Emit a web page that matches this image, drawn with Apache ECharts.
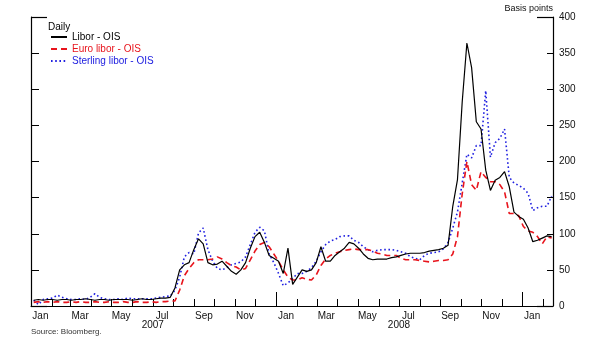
<!DOCTYPE html>
<html>
<head>
<meta charset="utf-8">
<script src="https://cdn.jsdelivr.net/npm/echarts@6/dist/echarts.min.js"></script>
<style>
  html, body { margin: 0; padding: 0; background: #fff; }
  #chart { width: 600px; height: 351px; }
</style>
</head>
<body>
<div id="chart"></div>
<script>
// Weekly readings (Fridays from 2007-01-05), basis points
const liborOis = [
  8, 9, 8, 9, 9, 8, 9, 9, 8, 9,
  9, 10, 9, 8, 9, 9, 8, 9, 9, 9,
  9, 8, 9, 10, 9, 9, 10, 11, 11, 12,
  25, 50, 57, 60, 78, 93, 86, 60, 57, 58,
  62, 55, 48, 44, 50, 60, 80, 96, 102, 88,
  70, 66, 62, 45, 80, 30, 40, 50, 48, 50,
  60, 82, 62, 62, 70, 75, 80, 88, 86, 80,
  72, 66, 64, 65, 65, 65, 67, 68, 70, 72,
  73, 73, 73, 74, 76, 77, 78, 80, 84, 138,
  175, 282, 364, 330, 255, 245, 188, 160, 174, 178,
  186, 165, 130, 124, 120, 108, 89, 91, 94, 97, 96
];
const euroOis = [
  5, 6, 5, 6, 5, 6, 5, 5, 6, 5,
  6, 5, 5, 6, 5, 5, 6, 5, 5, 6,
  5, 5, 6, 5, 5, 6, 5, 6, 6, 7,
  7, 22, 42, 52, 60, 64, 64, 64, 65, 68,
  65, 60, 56, 54, 50, 52, 64, 76, 85, 88,
  82, 72, 62, 50, 40, 36, 36, 39, 37, 36,
  43, 56, 65, 70, 73, 75, 77, 78, 79, 78,
  78, 78, 76, 73, 72, 70, 70, 70, 66, 64,
  64, 64, 63, 62, 61, 62, 63, 63, 64, 72,
  96, 155, 200, 168, 160, 186, 178, 172, 172, 168,
  158, 128, 128, 125, 110, 104, 102, 96, 86, 96, 94
];
const sterlingOis = [
  8, 2, 9, 10, 11, 15, 12, 10, 9, 9,
  10, 9, 12, 17, 12, 10, 9, 9, 10, 9,
  11, 10, 10, 10, 10, 10, 11, 12, 13, 14,
  22, 40, 68, 74, 72, 101, 108, 78, 62, 52,
  50, 53, 57, 59, 61, 68, 85, 102, 109, 104,
  72, 60, 45, 28, 32, 38, 45, 45, 48, 53,
  62, 75, 85, 90, 92, 96, 97, 97, 91, 88,
  82, 78, 75, 77, 78, 78, 78, 77, 75, 73,
  68, 66, 64, 70, 73, 74, 75, 79, 88, 108,
  130, 170, 210, 205, 222, 222, 298, 206, 226, 232,
  245, 178, 170, 167, 163, 156, 132, 136, 138, 138, 152
];
const monthNames = ['Jan', 'Feb', 'Mar', 'Apr', 'May', 'Jun', 'Jul', 'Aug', 'Sep', 'Oct', 'Nov', 'Dec'];
const yTicks = [0, 50, 100, 150, 200, 250, 300, 350, 400];

const DAY = 86400000;
const fmt = t => new Date(t).toISOString().slice(0, 10);

// one category per calendar day, Jan 1 2007 .. Feb 15 2009
const days = [];
for (let t = Date.UTC(2007, 0, 1); t <= Date.UTC(2009, 1, 15); t += DAY) days.push(fmt(t));
const weeks = liborOis.map((_, i) => fmt(Date.UTC(2007, 0, 5) + 7 * i * DAY));

const pair = arr => arr.map((v, i) => [weeks[i], v]);
const font = 'Liberation Sans, Arial, sans-serif';

const chart = echarts.init(document.getElementById('chart'));

const yBase = {
  type: 'value', min: yTicks[0], max: yTicks[yTicks.length - 1], interval: 50,
  splitLine: { show: false }
};

chart.setOption({
  animation: false,
  backgroundColor: '#fff',
  textStyle: { fontFamily: font },
  title: [
    { text: 'Daily', left: 48, top: 22, padding: 0,
      textStyle: { fontSize: 10, fontWeight: 'normal', color: '#000', fontFamily: font } },
    { text: 'Source: Bloomberg.', left: 31, top: 328, padding: 0,
      textStyle: { fontSize: 8, fontWeight: 'normal', color: '#333', fontFamily: font } }
  ],
  legend: {
    orient: 'vertical', left: 50, top: 32, padding: 0,
    itemWidth: 16, itemHeight: 10, itemGap: 2,
    itemStyle: { opacity: 0 },
    textStyle: { fontSize: 10, fontFamily: font },
    data: [
      { name: 'Libor - OIS', textStyle: { color: '#000' } },
      { name: 'Euro libor - OIS', textStyle: { color: '#e8141c' } },
      { name: 'Sterling libor - OIS', textStyle: { color: '#2020e0' } }
    ]
  },
  grid: { left: 31, right: 47, top: 17, bottom: 45 },
  xAxis: [
    {
      type: 'category', data: days, boundaryGap: false,
      axisLine: { lineStyle: { color: '#000', width: 1 } },
      axisTick: { inside: true, length: 7, lineStyle: { color: '#000' },
        interval: (i, v) => v.slice(8) === '01' },
      axisLabel: { color: '#111', fontSize: 10, margin: 5,
        interval: (i, v) => v.slice(8) === '15' && (+v.slice(5, 7)) % 2 === 1,
        formatter: v => monthNames[+v.slice(5, 7) - 1] }
    },
    {
      type: 'category', data: days, boundaryGap: false, position: 'bottom',
      axisLine: { show: false },
      axisTick: { inside: true, length: 14, lineStyle: { color: '#000' },
        interval: (i, v) => v.slice(5) === '01-01' && i > 0 },
      axisLabel: { color: '#111', fontSize: 10, margin: 14,
        interval: (i, v) => v.slice(5) === '07-01',
        formatter: v => v.slice(0, 4) }
    }
  ],
  yAxis: [
    Object.assign({}, yBase, {
      position: 'right',
      name: 'Basis points', nameLocation: 'end', nameGap: 4,
      nameTextStyle: { color: '#111', fontSize: 9, align: 'right', verticalAlign: 'bottom' },
      axisLine: { show: true, lineStyle: { color: '#000', width: 1.2 } },
      axisTick: { show: true, inside: true, length: 6, lineStyle: { color: '#000' } },
      axisLabel: { color: '#111', fontSize: 10, margin: 6 }
    }),
    Object.assign({}, yBase, {
      position: 'left',
      axisLine: { show: true, lineStyle: { color: '#000', width: 1.2 } },
      axisTick: { show: true, inside: true, length: 8, lineStyle: { color: '#000' } },
      axisLabel: { show: false }
    }),
    Object.assign({}, yBase, {
      position: 'right', interval: 400,
      axisLine: { show: false },
      axisTick: { show: true, inside: true, length: 16, lineStyle: { color: '#000', width: 1.2 } },
      axisLabel: { show: false }
    }),
    Object.assign({}, yBase, {
      position: 'left', interval: 400,
      axisLine: { show: false },
      axisTick: { show: true, inside: true, length: 16, lineStyle: { color: '#000', width: 1.2 } },
      axisLabel: { show: false }
    })
  ],
  series: [
    { name: 'Sterling libor - OIS', type: 'line', data: pair(sterlingOis),
      showSymbol: false, symbol: 'none',
      lineStyle: { color: '#2020e0', width: 1.6, type: [1.6, 2.6] },
      itemStyle: { color: '#2020e0' }, z: 3 },
    { name: 'Euro libor - OIS', type: 'line', data: pair(euroOis),
      showSymbol: false, symbol: 'none',
      lineStyle: { color: '#e8141c', width: 1.6, type: [6, 4] },
      itemStyle: { color: '#e8141c' }, z: 4 },
    { name: 'Libor - OIS', type: 'line', data: pair(liborOis),
      showSymbol: false, symbol: 'none',
      lineStyle: { color: '#000', width: 1.2 },
      itemStyle: { color: '#000' }, z: 5 }
  ]
});
</script>
</body>
</html>
